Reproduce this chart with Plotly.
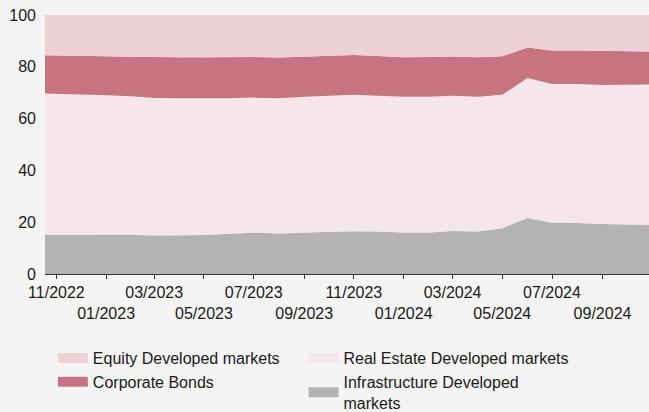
import plotly.graph_objects as go

months = ["2022-10-01", "2022-11-01", "2022-12-01", "2023-01-01", "2023-02-01", "2023-03-01",
          "2023-04-01", "2023-05-01", "2023-06-01", "2023-07-01", "2023-08-01", "2023-09-01",
          "2023-10-01", "2023-11-01", "2023-12-01", "2024-01-01", "2024-02-01", "2024-03-01",
          "2024-04-01", "2024-05-01", "2024-06-01", "2024-07-01", "2024-08-01", "2024-09-01",
          "2024-10-01", "2024-11-01"]

infrastructure = [15.0, 15.0, 15.1, 15.2, 15.2, 14.9, 14.9, 15.1, 15.5, 15.9, 15.6, 16.0, 16.3,
                  16.5, 16.4, 16.0, 16.0, 16.6, 16.4, 17.7, 21.6, 19.8, 19.7, 19.3, 19.1, 19.0]
real_estate = [54.8, 54.6, 54.2, 53.8, 53.4, 53.1, 53.0, 52.7, 52.4, 52.2, 52.3, 52.4, 52.5,
               52.7, 52.4, 52.4, 52.4, 52.2, 52.0, 51.5, 54.1, 53.6, 53.7, 53.7, 54.0, 54.2]
corporate_bonds = [14.8, 14.9, 15.0, 15.1, 15.3, 15.7, 15.8, 15.9, 15.9, 15.7, 15.7, 15.6, 15.5,
                   15.4, 15.4, 15.3, 15.4, 15.2, 15.3, 14.9, 11.8, 12.9, 12.9, 13.1, 12.9, 12.7]
equity = [15.4, 15.5, 15.7, 15.9, 16.1, 16.3, 16.3, 16.3, 16.2, 16.2, 16.4, 16.0, 15.7,
          15.4, 15.8, 16.3, 16.2, 16.0, 16.3, 15.9, 12.5, 13.7, 13.7, 13.9, 14.0, 14.1]

tick_vals = ["2022-11-01", "2023-01-01", "2023-03-01", "2023-05-01", "2023-07-01", "2023-09-01",
             "2023-11-01", "2024-01-01", "2024-03-01", "2024-05-01", "2024-07-01", "2024-09-01"]
tick_text = ["11/2022", "<br>01/2023", "03/2023", "<br>05/2023", "07/2023", "<br>09/2023",
             "11/2023", "<br>01/2024", "03/2024", "<br>05/2024", "07/2024", "<br>09/2024"]

# name, values, colour, legend column, rank within column
series = [
    ("Infrastructure Developed<br>markets", infrastructure, "#b3b3b3", "legend2", 2),
    ("Real Estate Developed markets", real_estate, "#f5e6ea", "legend2", 1),
    ("Corporate Bonds", corporate_bonds, "#c77482", "legend", 2),
    ("Equity Developed markets", equity, "#eed1d7", "legend", 1),
]

fig = go.Figure()
for name, vals, color, leg, rank in series:
    fig.add_trace(go.Scatter(
        x=months, y=vals, name=name, mode="lines", stackgroup="one",
        line=dict(width=0, color=color), fillcolor=color, showlegend=False,
        hoverinfo="skip"))
# legend entries (no data drawn) with thick swatches
for name, vals, color, leg, rank in series:
    fig.add_trace(go.Scatter(
        x=[None], y=[None], name=name, mode="lines", legend=leg,
        line=dict(width=14, color=color), legendrank=rank, showlegend=True))

font = dict(family="Liberation Sans, Arial, sans-serif", size=16, color="#1a1a1a")
leg_common = dict(orientation="v", xref="paper", yref="container", xanchor="left",
                  yanchor="top", traceorder="normal", font=font,
                  bgcolor="rgba(0,0,0,0)", tracegroupgap=0, valign="middle")
fig.update_layout(
    width=649, height=412,
    margin=dict(l=45, r=0, t=15, b=138),
    paper_bgcolor="#f4f4f4", plot_bgcolor="#f4f4f4",
    font=font,
    showlegend=True,
    legend=dict(x=0.013, y=0.172, **leg_common),
    legend2=dict(x=0.428, y=0.172, **leg_common),
    xaxis=dict(type="date", range=["2022-10-18", "2024-10-28"], tickmode="array",
               tickvals=tick_vals, ticktext=tick_text, ticks="outside", ticklen=4,
               tickcolor="#333333", showline=True, linecolor="#333333", linewidth=1,
               showgrid=False, zeroline=False, tickangle=0, automargin=False),
    yaxis=dict(range=[0, 100], tickvals=[0, 20, 40, 60, 80, 100], showgrid=True,
               gridcolor="#dcdcdc", gridwidth=1,
               zeroline=False, showline=False, ticks="", ticklabelstandoff=8,
               automargin=False),
)

fig.write_html("out.html")
